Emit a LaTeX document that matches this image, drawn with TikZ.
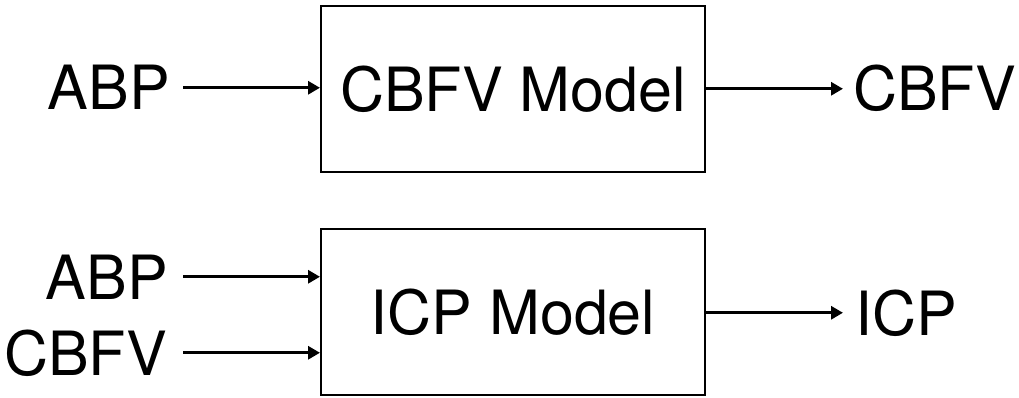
\documentclass[tikz,border=0pt]{standalone}
\usepackage{fontspec}
\setmainfont{TeX Gyre Heros}
\usetikzlibrary{arrows.meta}
\begin{document}
\begin{tikzpicture}[x=1pt,y=-1pt,
  lbl/.style={inner sep=0pt,font=\fontsize{61}{70}\selectfont},
  model/.style={draw,line width=2pt,minimum width=384pt,minimum height=166pt,inner sep=0pt,font=\fontsize{61}{70}\selectfont},
  conn/.style={line width=3.4pt,-{Triangle[length=12pt,width=13pt]}}]
\useasboundingbox (0,0) rectangle (1019,398);
\node[model] (m1) at (513,89) {CBFV Model};
\node[model] (m2) at (513,312) {ICP Model};
\node[lbl,anchor=base east] (a1) at (170,110) {ABP};
\node[lbl,anchor=base west] (o1) at (853,111) {CBFV};
\node[lbl,anchor=base east] (a2) at (168,299) {ABP};
\node[lbl,anchor=base east] (c2) at (167,375) {CBFV};
\node[lbl,anchor=base west] (o2) at (855,335) {ICP};
\draw[conn] ([xshift=13pt]a1.east) -- (a1.east -| m1.west);
\draw[conn] ([xshift=15pt]a2.east) -- (a2.east -| m2.west);
\draw[conn] ([xshift=16pt]c2.east) -- (c2.east -| m2.west);
\draw[conn] (m1.east |- o1.west) -- ([xshift=-10pt]o1.west);
\draw[conn] (m2.east |- o2.west) -- ([xshift=-12pt]o2.west);
\end{tikzpicture}
\end{document}
